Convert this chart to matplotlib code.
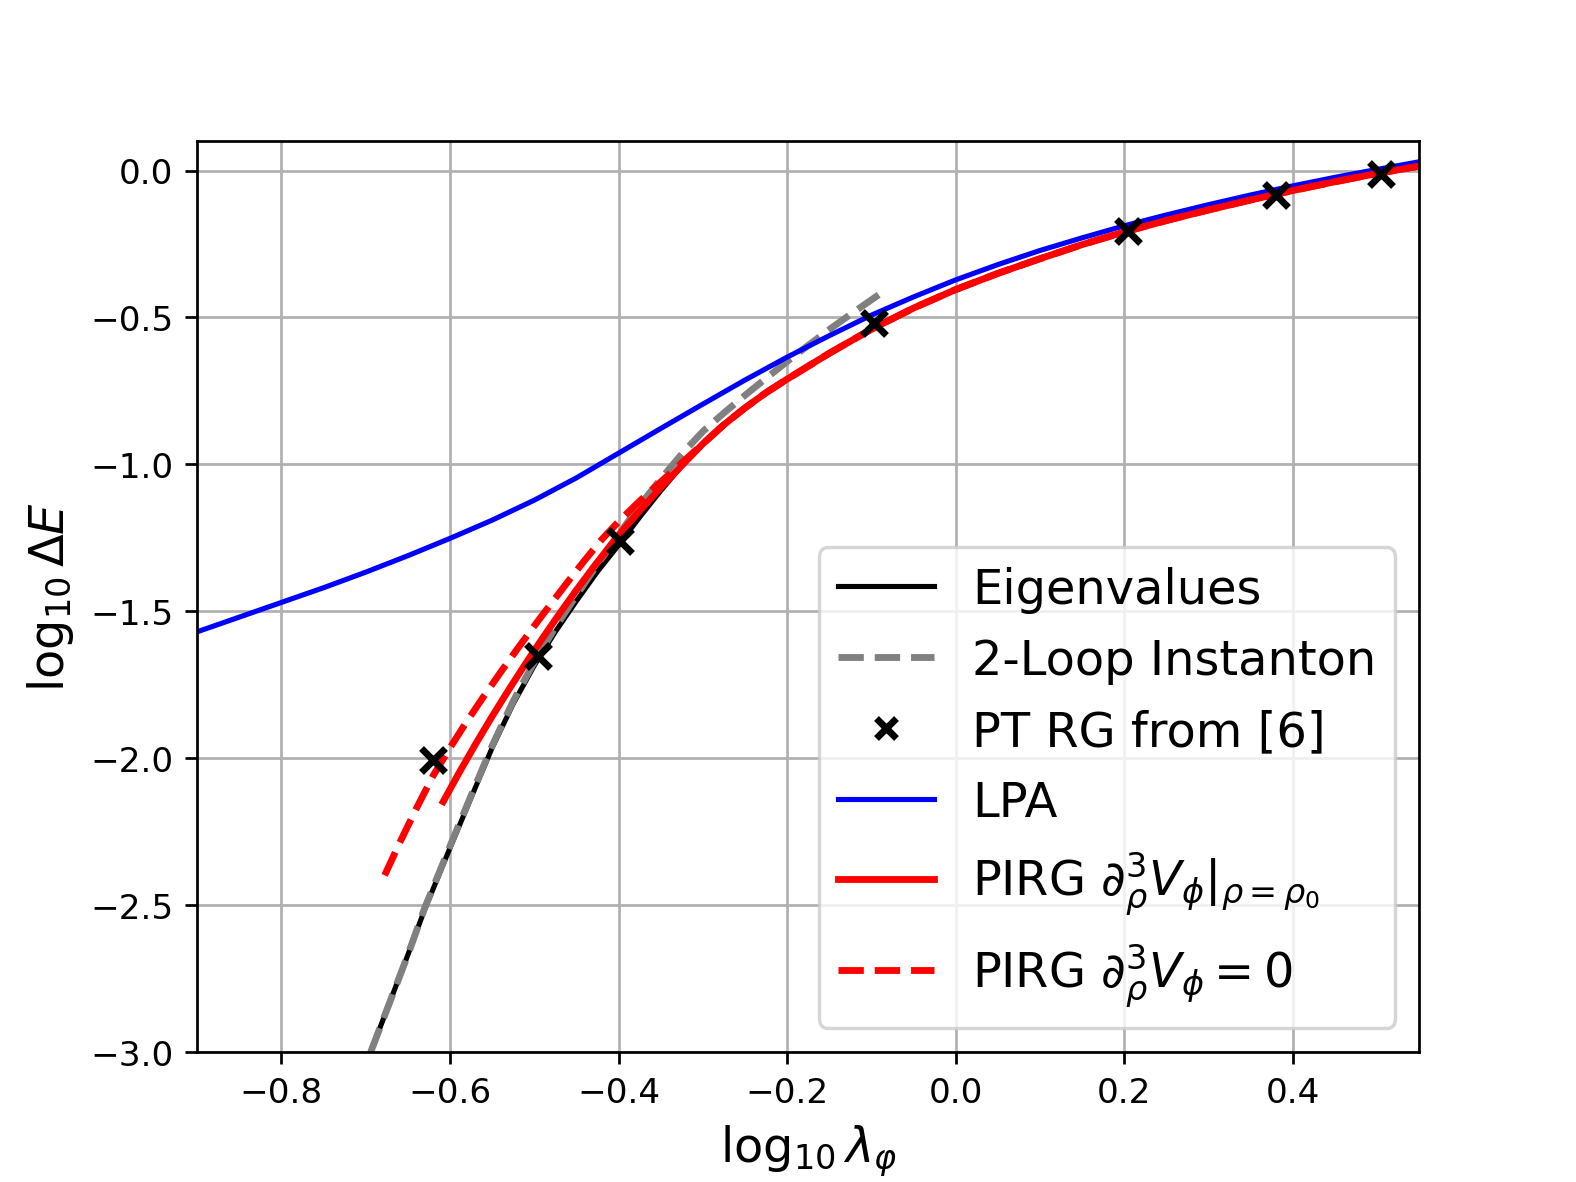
import numpy as np
import matplotlib
matplotlib.use("Agg")
import matplotlib.pyplot as plt

# Eigenvalues (exact diagonalisation)
eig_x = [-0.694, -0.67, -0.65, -0.63, -0.6, -0.575, -0.55, -0.525, -0.5, -0.475, -0.45, -0.425,
         -0.4, -0.375, -0.35, -0.325, -0.3, -0.275, -0.25, -0.225, -0.2, -0.15, -0.1, -0.05,
         0.0, 0.05, 0.1, 0.15, 0.2, 0.25, 0.3, 0.35, 0.4, 0.45, 0.5, 0.55]
eig_y = [-3.0, -2.82, -2.67, -2.515, -2.306, -2.135, -1.965, -1.815, -1.685, -1.57, -1.465, -1.365,
         -1.275, -1.18, -1.09, -1.005, -0.93, -0.865, -0.808, -0.756, -0.71, -0.622, -0.54, -0.468,
         -0.405, -0.35, -0.3, -0.252, -0.209, -0.17, -0.134, -0.1, -0.068, -0.038, -0.01, 0.015]

# 2-loop instanton
inst_x = [-0.694, -0.67, -0.65, -0.63, -0.6, -0.575, -0.55, -0.525, -0.5, -0.475, -0.45, -0.425,
          -0.4, -0.375, -0.35, -0.325, -0.3, -0.275, -0.25, -0.225, -0.2, -0.175, -0.15, -0.125,
          -0.1, -0.09]
inst_y = [-3.0, -2.82, -2.67, -2.51, -2.30, -2.128, -1.958, -1.806, -1.673, -1.555, -1.446, -1.34,
          -1.24, -1.14, -1.05, -0.965, -0.888, -0.825, -0.765, -0.707, -0.65, -0.595, -0.541, -0.49,
          -0.44, -0.42]

# PT RG from [6]
pt_x = [-0.620, -0.495, -0.398, -0.097, 0.204, 0.380, 0.505]
pt_y = [-2.006, -1.653, -1.262, -0.520, -0.205, -0.083, -0.011]

# LPA
lpa_x = [-0.9, -0.85, -0.8, -0.75, -0.7, -0.65, -0.6, -0.55, -0.5, -0.45, -0.4, -0.35, -0.3,
         -0.25, -0.2, -0.15, -0.1, -0.05, 0.0, 0.05, 0.1, 0.15, 0.2, 0.25, 0.3, 0.35, 0.4, 0.45,
         0.5, 0.55]
lpa_y = [-1.570, -1.52, -1.47, -1.42, -1.367, -1.311, -1.252, -1.19, -1.122, -1.046, -0.962, -0.878,
         -0.795, -0.713, -0.635, -0.562, -0.492, -0.43, -0.372, -0.32, -0.272, -0.229, -0.188,
         -0.151, -0.116, -0.083, -0.052, -0.023, 0.004, 0.03]

# PIRG, d^3 V evaluated at rho0
pirg_x = [-0.608, -0.59, -0.57, -0.55, -0.53, -0.51, -0.49, -0.47, -0.45, -0.43, -0.41, -0.4,
          -0.375, -0.35, -0.325, -0.3, -0.275, -0.25, -0.225, -0.2, -0.15, -0.1, -0.05, 0.0,
          0.05, 0.1, 0.15, 0.2, 0.25, 0.3, 0.35, 0.4, 0.45, 0.5, 0.55]
pirg_y = [-2.148, -2.054, -1.954, -1.858, -1.766, -1.677, -1.591, -1.508, -1.428, -1.351, -1.277,
          -1.241, -1.158, -1.08, -1.004, -0.93, -0.865, -0.808, -0.756, -0.71, -0.622, -0.54,
          -0.468, -0.405, -0.35, -0.3, -0.252, -0.209, -0.17, -0.134, -0.1, -0.068, -0.038,
          -0.01, 0.015]

# PIRG, d^3 V = 0
pirg0_x = [-0.6775, -0.66, -0.64, -0.62, -0.6, -0.58, -0.56, -0.54, -0.52, -0.5, -0.48, -0.46,
           -0.44, -0.42, -0.4, -0.375, -0.35, -0.325, -0.3, -0.275, -0.25, -0.225, -0.2, -0.15,
           -0.1, -0.05, 0.0, 0.05, 0.1, 0.15, 0.2, 0.25, 0.3, 0.35, 0.4, 0.45, 0.5, 0.55]
pirg0_y = [-2.399, -2.29, -2.172, -2.06, -1.965, -1.875, -1.79, -1.708, -1.628, -1.55, -1.474,
           -1.399, -1.326, -1.256, -1.195, -1.125, -1.06, -0.995, -0.93, -0.865, -0.808, -0.756,
           -0.71, -0.622, -0.54, -0.468, -0.405, -0.35, -0.3, -0.252, -0.209, -0.17, -0.134,
           -0.1, -0.068, -0.038, -0.01, 0.015]

fig = plt.figure(figsize=(6.4, 4.8), dpi=246.4)
ax = fig.add_subplot(111)

ax.plot(eig_x, eig_y, color="black", lw=1.5, label="Eigenvalues")
ax.plot(inst_x, inst_y, "--", color="gray", lw=2, label="2-Loop Instanton")
ax.plot(pt_x, pt_y, "x", color="black", ms=7, mew=2, zorder=5, label="PT RG from [6]")
ax.plot(lpa_x, lpa_y, color="blue", lw=1.5, label="LPA")
ax.plot(pirg_x, pirg_y, color="red", lw=2, label=r"PIRG $\partial_\rho^3 V_\phi|_{\rho=\rho_0}$")
ax.plot(pirg0_x, pirg0_y, "--", color="red", lw=2, label=r"PIRG $\partial_\rho^3 V_\phi = 0$")

ax.set_xlim(-0.9, 0.55)
ax.set_ylim(-3.0, 0.1)
ax.set_xlabel(r"$\log_{10}\lambda_\varphi$", fontsize=14)
ax.set_ylabel(r"$\log_{10}\Delta E$", fontsize=14)
ax.grid(True)
ax.legend(loc="lower right", fontsize=14, markerscale=0.8)

fig.savefig("out.png")
